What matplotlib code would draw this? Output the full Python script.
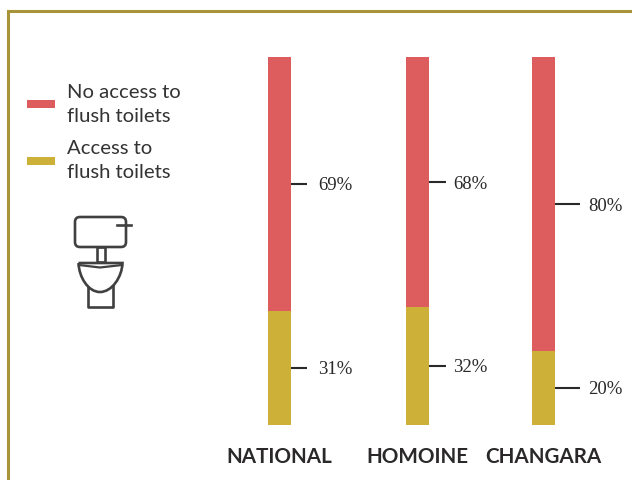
import matplotlib
matplotlib.use('Agg')
import matplotlib.pyplot as plt
from matplotlib.patches import FancyBboxPatch, Rectangle, PathPatch
from matplotlib.path import Path

# DATA
places = ['NATIONAL', 'HOMOINE', 'CHANGARA']
no_access = [69, 68, 80]
access = [31, 32, 20]
legend_labels = ['No access to\nflush toilets', 'Access to\nflush toilets']

# STYLE
red = '#dd5c5e'
gold = '#ccb038'
border = '#a8923a'
dark = '#2a2829'
icon = '#404040'
bar_x = [279.5, 417.5, 543.5]
bar_w = 23
lead_len = [16, 17, 25]
label_gap = [11, 7, 8]

W, H = 632, 481
fig = plt.figure(figsize=(W / 100, H / 100), dpi=100)

# page layer in pixel units
bg = fig.add_axes([0, 0, 1, 1])
bg.set_xlim(0, W)
bg.set_ylim(H, 0)
bg.axis('off')
bg.plot([7.5, 7.5, W], [H, 12.2, 12.2], color=border, lw=2.2, solid_joinstyle='miter')

# bars, y axis runs 0-100 between pixel rows 425.6 and 58
ax = fig.add_axes([0, (H - 425.6) / H, 1, 367.6 / H])
ax.set_xlim(0, W)
ax.set_ylim(0, 100)
ax.axis('off')
ax.patch.set_alpha(0)
ax.bar(bar_x, access, width=bar_w, color=gold)
ax.bar(bar_x, no_access, width=bar_w, bottom=access, color=red)

for x, a, n, ln, gap in zip(bar_x, access, no_access, lead_len, label_gap):
    x0 = x + bar_w / 2
    for mid, v in [(a / 2, a), (a + n / 2, n)]:
        ax.plot([x0, x0 + ln], [mid, mid], color=dark, lw=1.5, solid_capstyle='butt')
        ax.annotate('%d%%' % v, (x0 + ln + gap, mid), xytext=(0, 0.7), textcoords='offset points',
                    family='Liberation Serif', fontsize=13.5, color=dark, ha='left', va='center_baseline')

for x, name in zip(bar_x, places):
    bg.text(x - 0.5, 457, name, family='Lato', fontweight='bold', fontsize=14.9,
            color=dark, ha='center', va='center')

# legend
for y, ty, col, lab in zip([104.5, 161.5], [104.5, 160.5], [red, gold], legend_labels):
    bg.add_patch(Rectangle((27, y - 4), 28, 8, color=col, lw=0))
    bg.text(67, ty, lab, family='Lato', fontsize=14.6, color='#333333', ha='left',
            va='center', linespacing=1.52)

# toilet icon
ic = dict(edgecolor=icon, facecolor='none', lw=1.9)
bg.add_patch(FancyBboxPatch((75, 218), 51, 30, boxstyle='round,pad=0,rounding_size=5', **ic))
bg.plot([117, 131], [225.5, 225.5], color=icon, lw=1.9)
bg.add_patch(Rectangle((96.5, 248), 8, 15, **ic))
bowl = Path([(78.5, 264), (122.5, 264), (122, 278), (112, 293), (100, 293), (88, 293), (79, 278), (78.5, 264)],
            [Path.MOVETO, Path.LINETO, Path.CURVE4, Path.CURVE4, Path.CURVE4, Path.CURVE4, Path.CURVE4, Path.CURVE4])
bg.add_patch(PathPatch(bowl, facecolor='white', edgecolor=icon, lw=1.9, zorder=3))
bg.plot([79, 100, 122], [266, 268.5, 266], color=icon, lw=1.6, zorder=4)
bg.plot([87.5, 87.5, 113, 113], [287, 308, 308, 287], color=icon, lw=1.9, zorder=2)

fig.savefig('out.png', dpi=100)
